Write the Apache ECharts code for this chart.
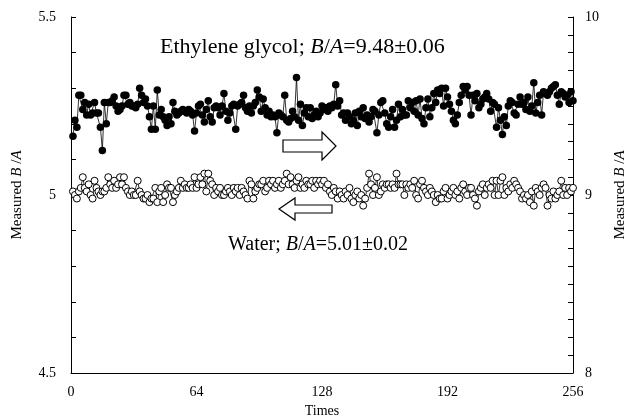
<!DOCTYPE html>
<html>
<head>
<meta charset="utf-8">
<script src="https://cdn.jsdelivr.net/npm/echarts@6/dist/echarts.min.js"></script>
<style>
  html, body { margin: 0; padding: 0; background: #fff; }
  #main { width: 630px; height: 420px; }
</style>
</head>
<body>
<div id="main"></div>
<script>
// 乙二醇 B/A 测量值 (右轴, 256 次)
var glycol = [
  9.33,9.42,9.38,9.56,9.56,9.48,9.52,9.45,9.51,9.45,9.46,9.52,9.46,9.46,9.38,9.25,
  9.52,9.40,9.52,9.52,9.53,9.55,9.50,9.47,9.48,9.50,9.56,9.56,9.51,9.52,9.50,9.50,
  9.49,9.51,9.60,9.56,9.52,9.54,9.50,9.44,9.37,9.50,9.37,9.59,9.45,9.48,9.44,9.42,
  9.39,9.44,9.40,9.52,9.47,9.45,9.46,9.47,9.48,9.47,9.46,9.48,9.47,9.45,9.36,9.46,
  9.50,9.51,9.45,9.41,9.48,9.53,9.44,9.41,9.49,9.50,9.49,9.45,9.50,9.57,9.47,9.42,
  9.46,9.50,9.51,9.37,9.50,9.51,9.52,9.56,9.49,9.47,9.50,9.46,9.50,9.52,9.59,9.55,
  9.47,9.54,9.49,9.45,9.47,9.44,9.45,9.44,9.35,9.46,9.45,9.44,9.56,9.42,9.41,9.43,
  9.47,9.44,9.66,9.42,9.51,9.39,9.46,9.49,9.44,9.49,9.43,9.45,9.47,9.44,9.46,9.50,
  9.48,9.49,9.47,9.50,9.49,9.51,9.62,9.50,9.53,9.45,9.46,9.42,9.46,9.44,9.40,9.42,
  9.46,9.39,9.47,9.44,9.49,9.43,9.45,9.41,9.44,9.48,9.47,9.35,9.45,9.52,9.53,9.46,
  9.40,9.38,9.44,9.48,9.38,9.42,9.51,9.44,9.48,9.45,9.45,9.53,9.49,9.52,9.47,9.53,
  9.45,9.54,9.43,9.40,9.49,9.54,9.44,9.49,9.57,9.52,9.59,9.57,9.60,9.50,9.60,9.55,
  9.51,9.47,9.42,9.40,9.45,9.52,9.56,9.61,9.59,9.61,9.56,9.45,9.56,9.53,9.57,9.49,
  9.51,9.54,9.55,9.57,9.54,9.47,9.52,9.51,9.38,9.49,9.42,9.34,9.44,9.39,9.50,9.53,
  9.52,9.46,9.45,9.51,9.55,9.51,9.52,9.48,9.55,9.47,9.50,9.63,9.46,9.52,9.56,9.45,
  9.58,9.57,9.56,9.58,9.60,9.61,9.62,9.56,9.51,9.58,9.57,9.55,9.56,9.52,9.58,9.53
];
// 水 B/A 测量值 (左轴)
var water = [
  5.01,5.00,4.99,5.01,5.02,5.05,5.02,5.01,5.03,5.00,4.99,5.04,5.02,5.01,5.00,5.01,
  5.01,5.02,5.05,5.03,5.02,5.04,5.02,5.03,5.05,5.03,5.05,5.02,5.01,5.00,5.01,5.00,
  5.00,5.04,5.01,5.00,4.99,4.99,5.00,4.98,4.99,4.99,5.02,4.98,5.01,5.02,4.98,5.00,
  5.03,5.02,5.02,4.98,5.00,5.01,5.02,5.04,5.02,5.03,5.02,5.02,5.03,5.02,5.05,5.02,
  5.03,5.05,5.03,5.06,5.01,5.06,5.04,5.03,5.00,5.02,5.01,5.02,5.00,5.00,5.01,5.02,
  5.01,5.00,5.02,5.01,5.02,5.00,5.02,5.01,5.00,4.99,5.04,5.03,4.99,5.01,5.02,5.03,
  5.03,5.04,5.01,5.02,5.04,5.03,5.04,5.02,5.03,5.04,5.02,5.03,5.04,5.06,5.03,5.05,
  5.03,5.02,5.04,5.05,5.02,5.03,5.02,5.04,5.03,5.03,5.04,5.02,5.04,5.03,5.04,5.03,
  5.04,5.02,5.03,5.01,5.00,5.02,5.01,4.99,5.01,5.00,4.99,5.01,5.00,5.02,4.99,4.98,
  5.00,5.01,4.99,5.00,4.97,4.99,5.02,5.06,5.03,5.00,5.02,5.05,5.00,5.01,5.03,5.02,
  5.03,5.03,5.02,5.03,5.02,5.06,5.03,5.03,5.03,5.00,5.03,5.02,5.03,5.02,5.04,5.00,
  4.99,5.03,5.04,5.02,5.01,5.00,5.02,5.01,5.00,4.98,5.00,4.99,4.99,5.01,5.02,4.99,
  5.00,5.01,5.02,5.00,5.01,4.99,5.02,5.03,5.01,5.00,5.02,5.02,5.00,4.99,4.97,5.01,
  5.02,5.03,5.00,5.02,5.03,5.02,5.04,5.00,5.04,5.00,5.04,5.05,5.00,5.02,5.01,5.03,
  5.02,5.04,5.03,5.02,5.01,4.99,5.00,4.99,5.00,4.98,5.01,4.97,5.02,5.01,5.00,5.02,
  5.03,5.02,4.97,5.00,4.99,5.01,4.99,5.00,5.01,5.04,5.00,5.02,5.00,5.02,5.01,5.02
];
var xTicks = [0, 64, 128, 192, 256];
var leftTicks = [4.5, 5, 5.5];
var rightTicks = [8, 9, 10];

var font = "'Liberation Serif', 'Times New Roman', serif";

function toPairs(arr) {
  return arr.map(function (v, i) { return [i + 1, v]; });
}

var chart = echarts.init(document.getElementById('main'), null, { renderer: 'canvas' });

var nameRich = {
  n: { fontFamily: font, fontSize: 15, color: '#000' },
  i: { fontFamily: font, fontSize: 15, color: '#000', fontStyle: 'italic' }
};
var noteRich = function (size) {
  return {
    n: { fontFamily: font, fontSize: size, fill: '#000' },
    i: { fontFamily: font, fontSize: size, fill: '#000', fontStyle: 'italic' }
  };
};

var option = {
  backgroundColor: '#fff',
  animation: false,
  grid: { left: 71, right: 57, top: 17, bottom: 47, outerBoundsMode: 'none', containLabel: false },
  xAxis: {
    type: 'value',
    min: xTicks[0], max: xTicks[xTicks.length - 1], interval: 64,
    name: 'Times', nameLocation: 'middle', nameGap: 31,
    nameTextStyle: { fontFamily: font, fontSize: 14, color: '#000' },
    axisLine: { lineStyle: { color: '#000', width: 1 } },
    axisTick: { show: false },
    splitLine: { show: false },
    axisLabel: { fontFamily: font, fontSize: 14, color: '#000', margin: 12 }
  },
  yAxis: [
    {
      type: 'value', position: 'left',
      min: leftTicks[0], max: leftTicks[2], interval: 0.5,
      name: '{n|Measured }{i|B}{n| /}{i|A}', nameLocation: 'middle', nameGap: 46, nameRotate: 90,
      nameTextStyle: { rich: nameRich },
      axisLine: { show: true, lineStyle: { color: '#000', width: 1 } },
      axisTick: { show: true, inside: true, length: 5, lineStyle: { color: '#000' } },
      minorTick: { show: true, splitNumber: 5, length: 5, lineStyle: { color: '#000' } },
      splitLine: { show: false },
      axisLabel: { fontFamily: font, fontSize: 14, color: '#000', margin: 15 }
    },
    {
      type: 'value', position: 'right',
      min: rightTicks[0], max: rightTicks[2], interval: 1,
      name: '{n|Measured }{i|B}{n| /}{i|A}', nameLocation: 'middle', nameGap: 40, nameRotate: 90,
      nameTextStyle: { rich: nameRich },
      axisLine: { show: true, lineStyle: { color: '#000', width: 1 } },
      axisTick: { show: true, inside: true, length: 5, lineStyle: { color: '#000' } },
      minorTick: { show: true, splitNumber: 10, length: 5, lineStyle: { color: '#000' } },
      splitLine: { show: false },
      axisLabel: { fontFamily: font, fontSize: 14, color: '#000', margin: 12 }
    }
  ],
  series: [
    {
      name: 'Water', type: 'line', yAxisIndex: 0,
      data: toPairs(water),
      symbol: 'circle', symbolSize: 7, showSymbol: true,
      lineStyle: { color: '#000', width: 0.8 },
      itemStyle: { color: '#fff', borderColor: '#000', borderWidth: 1 }
    },
    {
      name: 'Ethylene glycol', type: 'line', yAxisIndex: 1,
      data: toPairs(glycol),
      symbol: 'circle', symbolSize: 7.5, showSymbol: true,
      lineStyle: { color: '#000', width: 0.8 },
      itemStyle: { color: '#000', borderColor: '#000', borderWidth: 0 }
    }
  ],
  graphic: [
    {
      type: 'text', left: 160, top: 36,
      style: {
        text: '{n|Ethylene glycol; }{i|B}{n|/}{i|A}{n|=9.48±0.06}',
        rich: noteRich(22)
      }
    },
    {
      type: 'text', left: 228, top: 235,
      style: {
        text: '{n|Water; }{i|B}{n|/}{i|A}{n|=5.01±0.02}',
        rich: noteRich(20)
      }
    },
    {
      // 右箭头
      type: 'polygon',
      shape: { points: [[283, 140], [322, 140], [322, 132], [336, 146], [322, 160], [322, 152], [283, 152]] },
      style: { fill: '#fff', stroke: '#000', lineWidth: 1.2 }
    },
    {
      // 左箭头
      type: 'polygon',
      shape: { points: [[332, 205], [295, 205], [295, 198], [279, 209], [295, 220], [295, 213], [332, 213]] },
      style: { fill: '#fff', stroke: '#000', lineWidth: 1.2 }
    }
  ]
};

chart.setOption(option);
</script>
</body>
</html>
